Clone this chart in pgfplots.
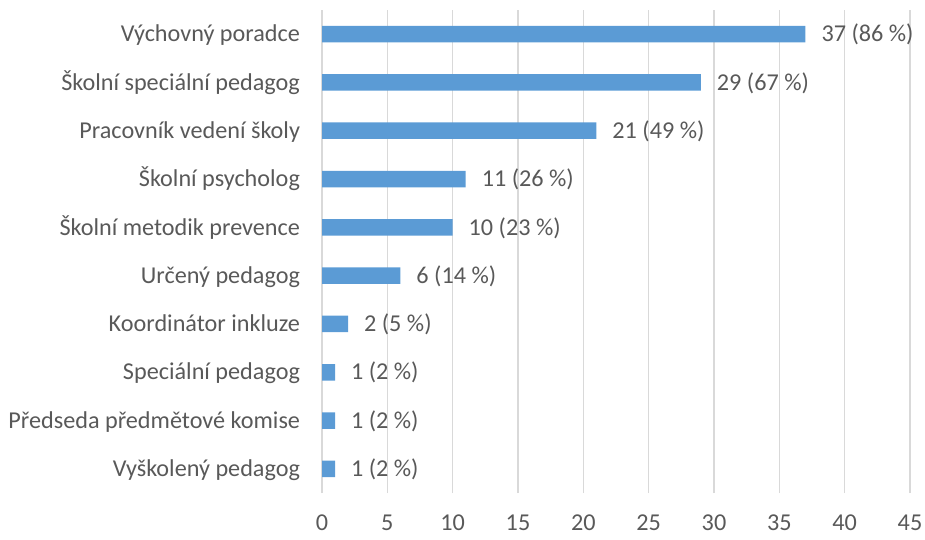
\documentclass[border=0pt]{standalone}
\usepackage{fontspec}
\setmainfont{Carlito}
\usepackage{pgfplots}
\pgfplotsset{compat=1.18}
\definecolor{barblue}{HTML}{5B9BD5}
\definecolor{txt}{HTML}{595959}
\definecolor{gridc}{HTML}{D9D9D9}
\newcommand{\lbl}{\fontsize{24.2}{28}\selectfont}
\begin{document}
\begin{tikzpicture}
\useasboundingbox (0,0) rectangle (925pt,539pt);
\begin{axis}[
  at={(322pt,46pt)}, anchor=south west,
  scale only axis, width=588pt, height=483pt,
  xmin=0, xmax=45, ymin=-0.5, ymax=9.5,
  xtick={0,5,...,45}, ytick={0,...,9},
  yticklabels={Vyškolený pedagog, Předseda předmětové komise, Speciální pedagog, Koordinátor inkluze, Určený pedagog, Školní metodik prevence, Školní psycholog, Pracovník vedení školy, Školní speciální pedagog, Výchovný poradce},
  axis line style={draw=none},
  major tick length=0pt,
  xmajorgrids, grid style={gridc, line width=1.4pt},
  tick label style={font=\lbl, text=txt},
  /pgf/number format/assume math mode=true,
  xticklabel style={anchor=center, yshift=-30pt},
  yticklabel style={anchor=base east, yshift=-7.7pt, xshift=-18.5pt},
  nodes near coords,
  point meta=explicit symbolic,
  nodes near coords style={anchor=base west, yshift=-7.7pt, xshift=12.5pt, text=txt, font=\lbl},
]
\addplot[xbar, bar width=16.5pt, fill=barblue, draw=none] coordinates {
  (1,0) [1 (2 \%)]
  (1,1) [1 (2 \%)]
  (1,2) [1 (2 \%)]
  (2,3) [2 (5 \%)]
  (6,4) [6 (14 \%)]
  (10,5) [10 (23 \%)]
  (11,6) [11 (26 \%)]
  (21,7) [21 (49 \%)]
  (29,8) [29 (67 \%)]
  (37,9) [37 (86 \%)]
};
\end{axis}
\end{tikzpicture}
\end{document}
